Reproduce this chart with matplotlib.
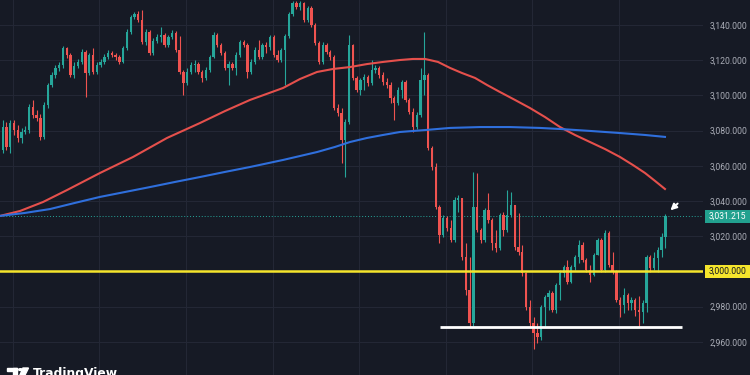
import matplotlib.pyplot as plt
from matplotlib.patches import Rectangle, Circle, Polygon
import numpy as np

# hourly candles, open of each bar = previous close
first_open = 3069.0
closes = [
    3082.0, 3070.7, 3084.3, 3080.3, 3075.8, 3079.2, 3080.3, 3093.4, 3088.9, 3087.2,
    3076.4, 3094.5, 3105.9, 3111.6, 3115.6, 3117.3, 3126.9, 3122.9, 3111.6, 3116.7,
    3119.0, 3124.7, 3112.7, 3122.9, 3113.3, 3117.3, 3119.0, 3121.8, 3124.1, 3122.9,
    3121.8, 3119.0, 3126.9, 3136.0, 3144.5, 3146.2, 3142.8, 3130.3, 3136.0, 3124.1,
    3130.9, 3133.2, 3134.3, 3128.6, 3133.2, 3135.4, 3125.8, 3113.3, 3107.0, 3113.3,
    3117.3, 3117.8, 3113.3, 3109.9, 3114.4, 3121.8, 3134.3, 3128.6, 3124.1, 3115.6,
    3117.8, 3115.6, 3122.9, 3130.3, 3128.6, 3113.3, 3119.0, 3125.8, 3121.8, 3128.6,
    3127.5, 3133.2, 3122.9, 3120.1, 3125.8, 3133.7, 3146.2, 3152.5, 3150.2, 3152.5,
    3142.8, 3149.7, 3140.0, 3129.8, 3119.0, 3128.6, 3124.7, 3121.8, 3092.8, 3090.0,
    3074.7, 3084.9, 3128.6, 3109.9, 3103.1, 3108.7, 3110.4, 3107.0, 3114.4, 3115.6,
    3111.6, 3107.6, 3105.9, 3098.5, 3095.7, 3103.1, 3107.6, 3097.4, 3090.6, 3082.0,
    3088.9, 3108.7, 3111.6, 3070.1, 3059.3, 3036.6, 3020.7, 3030.3, 3024.7, 3017.8,
    3040.6, 3041.7, 3008.2, 2989.4, 2970.7, 3036.6, 3023.5, 3017.8, 3034.9, 3029.2,
    3016.1, 3013.3, 3032.0, 3023.5, 3032.0, 3037.7, 3013.9, 3011.0, 2999.1, 2979.8,
    2970.7, 2965.0, 2962.7, 2979.8, 2985.4, 2987.7, 2978.1, 2992.3, 2999.1, 3002.5,
    2994.0, 3002.5, 3008.2, 3015.0, 3006.5, 3000.8, 2997.9, 3009.3, 3017.8, 3000.8,
    3021.8, 3003.6, 2999.6, 2983.7, 2980.9, 2986.6, 2982.0, 2983.7, 2978.1, 2976.9,
    2982.0, 3008.2, 3001.9, 3007.6, 3012.1, 3019.5, 3031.215]
highs = [
    3086.0, 3084.9, 3086.0, 3086.0, 3083.2, 3081.5, 3082.6, 3095.1, 3097.4, 3091.7,
    3089.4, 3096.2, 3107.0, 3113.3, 3117.3, 3119.0, 3128.1, 3127.5, 3124.1, 3119.0,
    3120.7, 3126.4, 3125.8, 3124.1, 3126.9, 3119.0, 3120.7, 3123.5, 3125.8, 3125.2,
    3124.1, 3122.9, 3128.1, 3137.7, 3145.7, 3147.4, 3148.0, 3148.5, 3137.7, 3137.2,
    3132.6, 3134.9, 3138.9, 3135.4, 3134.3, 3137.2, 3136.6, 3133.7, 3114.4, 3115.6,
    3119.0, 3120.1, 3119.0, 3114.4, 3116.1, 3122.9, 3136.0, 3135.4, 3129.8, 3125.2,
    3119.5, 3119.0, 3124.7, 3131.5, 3131.5, 3129.8, 3120.7, 3127.5, 3131.5, 3129.8,
    3130.3, 3134.3, 3134.3, 3125.8, 3126.9, 3134.9, 3147.4, 3153.9, 3153.6, 3153.6,
    3153.1, 3150.8, 3150.8, 3141.1, 3130.9, 3130.3, 3129.8, 3125.8, 3122.9, 3095.1,
    3092.8, 3086.6, 3134.3, 3129.2, 3111.0, 3109.9, 3112.2, 3111.6, 3120.1, 3117.3,
    3116.7, 3113.3, 3109.9, 3107.6, 3099.7, 3104.8, 3108.7, 3108.7, 3098.5, 3092.8,
    3090.6, 3115.6, 3136.0, 3112.7, 3071.2, 3061.6, 3037.7, 3032.0, 3031.5, 3029.2,
    3042.3, 3043.4, 3041.9, 3016.1, 3008.2, 3056.5, 3055.9, 3024.7, 3036.0, 3044.5,
    3030.3, 3023.5, 3033.2, 3033.7, 3046.2, 3045.1, 3037.9, 3033.2, 3015.0, 2999.6,
    2983.7, 2974.1, 2970.7, 2980.9, 2986.6, 2989.4, 2989.0, 2993.4, 3000.8, 3003.6,
    3006.5, 3003.6, 3009.3, 3017.8, 3016.5, 3007.6, 3003.6, 3010.4, 3019.0, 3019.0,
    3023.5, 3023.0, 3011.0, 3000.8, 2985.4, 2990.6, 2987.7, 2985.4, 2984.9, 2986.0,
    2983.7, 3009.3, 3009.3, 3011.0, 3013.9, 3021.8, 3032.6]
lows = [
    3067.3, 3069.0, 3067.3, 3077.5, 3073.5, 3072.9, 3078.1, 3078.6, 3087.2, 3085.4,
    3074.7, 3075.2, 3092.8, 3104.8, 3109.9, 3113.9, 3115.6, 3121.2, 3110.4, 3109.9,
    3115.6, 3117.8, 3099.1, 3111.6, 3112.2, 3112.2, 3116.1, 3117.8, 3120.7, 3121.8,
    3120.1, 3117.8, 3118.4, 3125.8, 3134.9, 3143.4, 3141.7, 3129.2, 3128.6, 3122.9,
    3122.9, 3129.8, 3130.3, 3127.5, 3127.5, 3132.0, 3124.7, 3112.2, 3100.2, 3105.9,
    3112.2, 3113.3, 3112.2, 3107.6, 3108.7, 3113.3, 3121.2, 3127.5, 3122.9, 3114.4,
    3105.9, 3114.4, 3111.6, 3121.8, 3127.5, 3109.9, 3112.2, 3117.8, 3120.7, 3120.7,
    3124.1, 3125.8, 3121.8, 3119.0, 3119.0, 3105.9, 3132.6, 3145.1, 3149.1, 3148.5,
    3141.7, 3141.7, 3138.9, 3128.6, 3117.8, 3117.8, 3123.5, 3120.1, 3091.7, 3088.3,
    3061.6, 3053.6, 3083.7, 3108.7, 3101.9, 3100.2, 3103.1, 3105.3, 3105.9, 3112.7,
    3109.9, 3105.9, 3104.2, 3095.7, 3086.0, 3094.5, 3098.5, 3096.2, 3089.4, 3079.2,
    3080.9, 3087.7, 3100.2, 3069.0, 3057.6, 3035.4, 3016.1, 3019.5, 3022.9, 3016.7,
    3016.7, 3033.7, 3006.5, 2986.6, 2968.4, 2969.0, 3022.4, 3016.1, 3016.7, 3027.5,
    3012.1, 3011.0, 3012.1, 3020.1, 3022.4, 3031.0, 3012.1, 3009.3, 2997.4, 2978.1,
    2968.4, 2955.9, 2959.3, 2961.0, 2968.4, 2978.1, 2976.9, 2976.5, 2983.7, 2996.8,
    2992.8, 2993.4, 3000.8, 3004.8, 3005.3, 2999.6, 2994.0, 2997.4, 3009.3, 2999.6,
    2999.5, 3002.5, 2998.5, 2982.6, 2974.1, 2976.4, 2978.1, 2978.1, 2974.7, 2968.4,
    2970.7, 2976.9, 2999.6, 3000.8, 2999.6, 3008.2, 3013.3]

# moving averages (they start off-screen, so read as points along the curve)
ma_red_x = [-0.72, 4.59, 10.70, 17.08, 25.84, 34.61, 43.64, 52.40, 59.04, 65.68,
            74.46, 78.96, 83.48, 87.73, 92.24, 96.76, 101.01, 105.53, 108.98, 112.17,
            115.62, 118.81, 122.00, 125.45, 128.64, 132.08, 136.07, 140.05, 144.03, 148.02,
            152.00, 155.98, 159.97, 163.95, 167.41, 170.59, 173.25, 175.90]
ma_red = [3031.5, 3034.3, 3039.4, 3046.2, 3055.9, 3065.0, 3075.8, 3084.3, 3091.1, 3097.4,
          3104.2, 3109.3, 3113.3, 3115.0, 3116.1, 3117.8, 3119.0, 3120.1, 3120.7, 3120.7,
          3119.0, 3115.6, 3112.7, 3109.9, 3105.9, 3101.9, 3097.4, 3092.8, 3087.7, 3082.0,
          3077.5, 3073.5, 3069.5, 3065.0, 3060.4, 3055.9, 3051.4, 3046.8]
ma_blue_x = [-0.72, 5.92, 12.56, 19.20, 25.84, 32.48, 39.12, 45.76, 52.40, 59.04,
             65.68, 74.46, 83.48, 88.26, 92.24, 96.76, 101.01, 105.53, 112.17, 118.81,
             126.78, 134.75, 142.71, 148.02, 155.98, 163.95, 170.59, 175.90]
ma_blue = [3031.5, 3033.2, 3035.4, 3038.9, 3042.3, 3045.1, 3047.9, 3050.8, 3053.6, 3056.5,
           3059.3, 3063.3, 3067.8, 3070.7, 3073.5, 3075.8, 3077.5, 3079.2, 3080.3, 3081.5,
           3082.0, 3082.0, 3081.5, 3080.9, 3079.8, 3078.6, 3077.5, 3076.4]

price_ticks = [2960, 2980, 3000, 3020, 3040, 3060, 3080, 3100, 3120, 3140]
support_level = 3000.0
floor_level = 2968.4
floor_span = (116.1, 180.4)

BG = "#161a25"
GRID = "#232735"
UP = "#26a69a"
DOWN = "#ef5350"

fig = plt.figure(figsize=(7.5, 3.75), dpi=100)
fig.patch.set_facecolor(BG)
ax = fig.add_axes([0, 0, 703 / 750, 1])
ax.set_facecolor(BG)

closes = np.array(closes)
opens = np.concatenate([[first_open], closes[:-1]])
x = np.arange(len(closes))
colors = np.where(closes >= opens, UP, DOWN)

#candles
ax.vlines(x, lows, highs, colors=colors, lw=0.8, zorder=3)
ax.bar(x, np.maximum(np.abs(closes - opens), 0.4), bottom=np.minimum(opens, closes),
       width=0.62, color=colors, linewidth=0, zorder=4)

#moving averages
ax.plot(ma_red_x, ma_red, color="#e5504c", lw=1.5, zorder=5, solid_joinstyle="round")
ax.plot(ma_blue_x, ma_blue, color="#2f6fdc", lw=1.5, zorder=5, solid_joinstyle="round")

#levels
ax.axhline(support_level, color="#f5e52c", lw=1.8, zorder=6)
ax.hlines(floor_level, *floor_span, color="white", lw=2, zorder=6)
ax.axhline(closes[-1], color=UP, ls=(0, (1, 2)), lw=0.7, zorder=2)

ax.annotate("", xy=(176.8, 3033.6), xytext=(179.8, 3039.6),
            arrowprops=dict(arrowstyle="-|>", color="white", lw=1.4, mutation_scale=9))

ax.set_xlim(-0.72, 186.0)
ax.set_ylim(2941.1, 3154.2)

#grid and axis
ax.set_xticks(np.arange(2.7, 180, 23))
ax.set_yticks(price_ticks)
ax.set_yticklabels([f"{p:,.3f}" for p in price_ticks], family="Roboto")
ax.yaxis.tick_right()
ax.tick_params(axis="y", length=0, pad=5, labelsize=6.2, labelcolor="#a9acb6")
ax.tick_params(axis="x", length=0, labelbottom=False)
ax.grid(color=GRID, lw=0.8)
ax.set_axisbelow(True)
for s in ax.spines.values():
    s.set_visible(False)


def price_badge(price, face, text_color):
    y_fig = fig.transFigure.inverted().transform(ax.transData.transform((0, price)))[1]
    fig.add_artist(Rectangle((705 / 750, y_fig - 6.5 / 375), 45 / 750, 13 / 375,
                             transform=fig.transFigure, facecolor=face, edgecolor="none"))
    fig.text(727.5 / 750, y_fig, f"{price:,.3f}", color=text_color, fontsize=6.2,
             family="Roboto", ha="center", va="center")


price_badge(closes[-1], "#22a18f", "white")
price_badge(support_level, "#f5e52c", "#131722")

#tradingview logo, cut by the bottom edge like in the screenshot
def px(xp, yp):
    return (xp / 750, (375 - yp) / 375)

fig.add_artist(Rectangle(px(7, 371), 10 / 750, 3 / 375, transform=fig.transFigure, color="white"))
fig.add_artist(Rectangle(px(13, 376), 4 / 750, 8 / 375, transform=fig.transFigure, color="white"))
fig.add_artist(Circle(px(20.5, 369.6), 1.8 / 750, transform=fig.transFigure, color="white"))
fig.add_artist(Polygon([px(23, 368), px(28.5, 368), px(24.5, 376), px(19.5, 376)],
                       closed=True, transform=fig.transFigure, color="white"))
fig.text(33 / 750, -2.5 / 375, "TradingView", color="white", fontsize=8.8,
         fontweight="bold", va="baseline", ha="left")

fig.savefig("out.png", dpi=100, facecolor=BG)
